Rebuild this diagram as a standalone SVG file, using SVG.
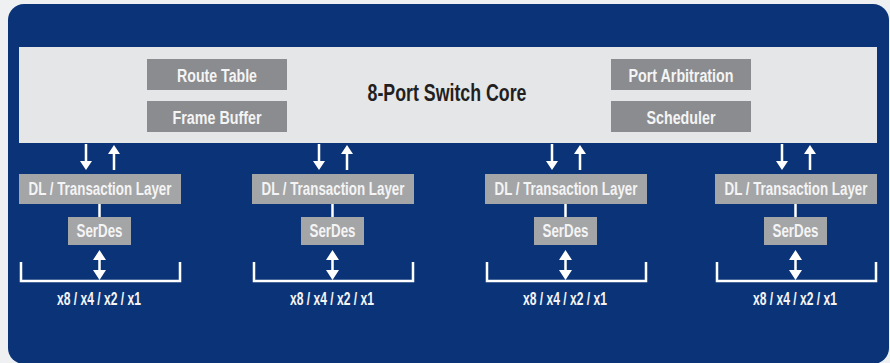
<svg xmlns="http://www.w3.org/2000/svg" width="890" height="363" viewBox="0 0 890 363">
<style>
.t{font-family:"Liberation Sans",Arial,sans-serif;font-weight:bold;fill:#f4f4f4;text-anchor:middle;font-size:18px}
.dl{fill:#a4a5a7}
.core-box{fill:#8b8c8f}
.ln{stroke:#fff;stroke-width:2.5;fill:none}
.hd{fill:#fff}
</style>
<defs>
<path id="down" d="M-1.25,0 H1.25 V17 H6 L0,26 L-6,17 H-1.25 Z"/>
<path id="up" d="M-1.25,26 H1.25 V10 H6 L0,1 L-6,10 H-1.25 Z"/>
<path id="dbl" d="M0,0 L6.5,10 H1.25 V20 H6.5 L0,30 L-6.5,20 H-1.25 V10 H-6.5 Z"/>
</defs>
<rect x="0" y="0" width="890" height="363" fill="#eef0f2"/>
<rect x="8" y="4" width="881" height="360" rx="16" fill="#0b3478"/>
<g id="core">
<rect x="19" y="47" width="858" height="96" fill="#e5e6e8"/>
<text x="447" y="101" font-family="Liberation Sans,Arial,sans-serif" font-weight="bold" font-size="23" fill="#231f20" text-anchor="middle" textLength="159" lengthAdjust="spacingAndGlyphs">8-Port Switch Core</text>
</g>
<g id="route-table"><rect class="core-box" x="147" y="59" width="140" height="31"/><text class="t" x="217" y="82" textLength="80" lengthAdjust="spacingAndGlyphs">Route Table</text></g>
<g id="frame-buffer"><rect class="core-box" x="147" y="101" width="140" height="31"/><text class="t" x="217" y="124" textLength="89" lengthAdjust="spacingAndGlyphs">Frame Buffer</text></g>
<g id="port-arbitration"><rect class="core-box" x="611" y="59" width="140" height="31"/><text class="t" x="681" y="82" textLength="105" lengthAdjust="spacingAndGlyphs">Port Arbitration</text></g>
<g id="scheduler"><rect class="core-box" x="611" y="101" width="140" height="31"/><text class="t" x="681" y="124" textLength="69" lengthAdjust="spacingAndGlyphs">Scheduler</text></g>

<g id="port1">
<rect class="dl" x="19" y="174" width="162" height="30"/><text class="t" x="100" y="195" textLength="143" lengthAdjust="spacingAndGlyphs">DL / Transaction Layer</text>
<rect class="dl" x="68" y="217" width="63" height="28"/><text class="t" x="99.5" y="237" textLength="46" lengthAdjust="spacingAndGlyphs">SerDes</text>
<text class="t" x="99" y="305" textLength="84" lengthAdjust="spacingAndGlyphs">x8 / x4 / x2 / x1</text>
</g>
<g id="port2">
<rect class="dl" x="252" y="174" width="162" height="30"/><text class="t" x="333" y="195" textLength="143" lengthAdjust="spacingAndGlyphs">DL / Transaction Layer</text>
<rect class="dl" x="301" y="217" width="63" height="28"/><text class="t" x="332.5" y="237" textLength="46" lengthAdjust="spacingAndGlyphs">SerDes</text>
<text class="t" x="332" y="305" textLength="84" lengthAdjust="spacingAndGlyphs">x8 / x4 / x2 / x1</text>
</g>
<g id="port3">
<rect class="dl" x="485" y="174" width="162" height="30"/><text class="t" x="566" y="195" textLength="143" lengthAdjust="spacingAndGlyphs">DL / Transaction Layer</text>
<rect class="dl" x="534" y="217" width="63" height="28"/><text class="t" x="565.5" y="237" textLength="46" lengthAdjust="spacingAndGlyphs">SerDes</text>
<text class="t" x="565" y="305" textLength="84" lengthAdjust="spacingAndGlyphs">x8 / x4 / x2 / x1</text>
</g>
<g id="port4">
<rect class="dl" x="715" y="174" width="162" height="30"/><text class="t" x="796" y="195" textLength="143" lengthAdjust="spacingAndGlyphs">DL / Transaction Layer</text>
<rect class="dl" x="764" y="217" width="63" height="28"/><text class="t" x="795.5" y="237" textLength="46" lengthAdjust="spacingAndGlyphs">SerDes</text>
<text class="t" x="795" y="305" textLength="84" lengthAdjust="spacingAndGlyphs">x8 / x4 / x2 / x1</text>
</g>

<g id="connectors">
<g class="hd">
<use href="#down" x="86" y="144"/><use href="#up" x="114" y="144"/><use href="#dbl" x="99.5" y="250"/>
<use href="#down" x="319" y="144"/><use href="#up" x="347" y="144"/><use href="#dbl" x="332.5" y="250"/>
<use href="#down" x="552" y="144"/><use href="#up" x="580" y="144"/><use href="#dbl" x="565.5" y="250"/>
<use href="#down" x="782" y="144"/><use href="#up" x="810" y="144"/><use href="#dbl" x="795.5" y="250"/>
</g>
<g class="ln">
<path d="M99.5,204 V217"/><path d="M21,262 V281 H180 V262"/>
<path d="M332.5,204 V217"/><path d="M254,262 V281 H413 V262"/>
<path d="M565.5,204 V217"/><path d="M487,262 V281 H646 V262"/>
<path d="M795.5,204 V217"/><path d="M717,262 V281 H876 V262"/>
</g>
</g>
</svg>
